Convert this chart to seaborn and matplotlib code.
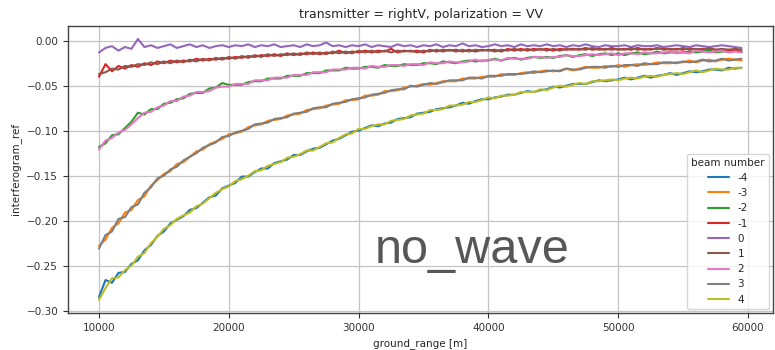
import numpy as np
import pandas as pd
import matplotlib
matplotlib.use("Agg")
import matplotlib.pyplot as plt
import seaborn as sns

# ---------------- data ----------------
ground_range = list(range(10000, 60000, 500))  # 100 samples

beam_m4 = [-0.285, -0.266, -0.269, -0.258, -0.257, -0.248, -0.244, -0.233, -0.227, -0.217,
           -0.212, -0.203, -0.199, -0.195, -0.188, -0.186, -0.180, -0.174, -0.172, -0.164,
           -0.161, -0.158, -0.151, -0.151, -0.146, -0.142, -0.142, -0.136, -0.134, -0.132,
           -0.127, -0.127, -0.123, -0.120, -0.119, -0.115, -0.111, -0.109, -0.105, -0.101,
           -0.100, -0.097, -0.094, -0.095, -0.092, -0.091, -0.087, -0.086, -0.085, -0.081,
           -0.080, -0.079, -0.076, -0.075, -0.074, -0.072, -0.069, -0.070, -0.067, -0.065,
           -0.065, -0.063, -0.062, -0.060, -0.060, -0.058, -0.056, -0.057, -0.055, -0.054,
           -0.051, -0.052, -0.050, -0.048, -0.048, -0.048, -0.046, -0.044, -0.045, -0.044,
           -0.043, -0.041, -0.043, -0.041, -0.039, -0.041, -0.039, -0.038, -0.036, -0.038,
           -0.036, -0.034, -0.035, -0.034, -0.032, -0.032, -0.033, -0.030, -0.031, -0.030]

beam_m3 = [-0.228, -0.221, -0.208, -0.203, -0.191, -0.188, -0.177, -0.173, -0.161, -0.155,
           -0.148, -0.145, -0.137, -0.135, -0.129, -0.123, -0.121, -0.115, -0.112, -0.109,
           -0.104, -0.103, -0.101, -0.096, -0.094, -0.093, -0.089, -0.088, -0.087, -0.083,
           -0.082, -0.081, -0.077, -0.076, -0.075, -0.072, -0.071, -0.070, -0.066, -0.066,
           -0.065, -0.061, -0.061, -0.060, -0.056, -0.056, -0.055, -0.052, -0.051, -0.050,
           -0.048, -0.049, -0.047, -0.045, -0.045, -0.045, -0.042, -0.042, -0.042, -0.040,
           -0.040, -0.040, -0.037, -0.038, -0.038, -0.036, -0.035, -0.036, -0.034, -0.033,
           -0.034, -0.033, -0.031, -0.033, -0.031, -0.029, -0.030, -0.030, -0.028, -0.029,
           -0.027, -0.029, -0.027, -0.026, -0.027, -0.026, -0.024, -0.025, -0.025, -0.024,
           -0.024, -0.022, -0.024, -0.022, -0.021, -0.023, -0.021, -0.020, -0.021, -0.022]

beam_m2 = [-0.118, -0.114, -0.105, -0.104, -0.097, -0.090, -0.080, -0.082, -0.076, -0.076,
           -0.070, -0.069, -0.065, -0.064, -0.059, -0.058, -0.058, -0.053, -0.052, -0.047,
           -0.049, -0.049, -0.049, -0.046, -0.045, -0.045, -0.042, -0.042, -0.042, -0.039,
           -0.039, -0.039, -0.036, -0.036, -0.036, -0.033, -0.033, -0.033, -0.030, -0.031,
           -0.031, -0.029, -0.029, -0.030, -0.027, -0.028, -0.028, -0.026, -0.027, -0.027,
           -0.025, -0.025, -0.026, -0.023, -0.024, -0.025, -0.023, -0.022, -0.023, -0.022,
           -0.022, -0.020, -0.022, -0.020, -0.019, -0.021, -0.019, -0.018, -0.019, -0.018,
           -0.019, -0.017, -0.016, -0.018, -0.016, -0.015, -0.017, -0.015, -0.014, -0.016,
           -0.014, -0.016, -0.014, -0.013, -0.015, -0.014, -0.012, -0.014, -0.013, -0.013,
           -0.013, -0.012, -0.013, -0.012, -0.011, -0.013, -0.012, -0.012, -0.011, -0.012]

beam_m1 = [-0.040, -0.026, -0.034, -0.028, -0.031, -0.027, -0.029, -0.025, -0.027, -0.023,
           -0.025, -0.022, -0.024, -0.022, -0.023, -0.020, -0.022, -0.020, -0.021, -0.019,
           -0.020, -0.018, -0.019, -0.017, -0.018, -0.016, -0.017, -0.015, -0.017, -0.014,
           -0.016, -0.014, -0.015, -0.013, -0.015, -0.013, -0.014, -0.011, -0.014, -0.012,
           -0.013, -0.011, -0.013, -0.011, -0.012, -0.009, -0.013, -0.011, -0.012, -0.011,
           -0.013, -0.010, -0.012, -0.010, -0.011, -0.010, -0.012, -0.010, -0.012, -0.010,
           -0.011, -0.010, -0.012, -0.009, -0.011, -0.009, -0.011, -0.009, -0.010, -0.009,
           -0.011, -0.009, -0.010, -0.009, -0.010, -0.008, -0.010, -0.009, -0.010, -0.008,
           -0.010, -0.009, -0.010, -0.008, -0.010, -0.009, -0.009, -0.008, -0.010, -0.009,
           -0.010, -0.008, -0.010, -0.009, -0.009, -0.010, -0.011, -0.010, -0.011, -0.012]

beam_0 = [-0.013, -0.008, -0.006, -0.011, -0.007, -0.009, 0.002, -0.007, -0.005, -0.008,
          -0.006, -0.004, -0.008, -0.006, -0.004, -0.007, -0.005, -0.008, -0.006, -0.005,
          -0.007, -0.005, -0.006, -0.004, -0.007, -0.005, -0.006, -0.004, -0.007, -0.006,
          -0.005, -0.007, -0.004, -0.006, -0.005, -0.002, -0.006, -0.005, -0.007, -0.005,
          -0.006, -0.004, -0.007, -0.005, -0.006, -0.007, -0.004, -0.006, -0.005, -0.007,
          -0.005, -0.006, -0.004, -0.007, -0.005, -0.006, -0.003, -0.006, -0.005, -0.007,
          -0.006, -0.004, -0.006, -0.005, -0.007, -0.004, -0.006, -0.005, -0.006, -0.004,
          -0.006, -0.005, -0.007, -0.005, -0.006, -0.004, -0.006, -0.007, -0.005, -0.006,
          -0.006, -0.005, -0.007, -0.005, -0.006, -0.006, -0.005, -0.007, -0.006, -0.005,
          -0.006, -0.007, -0.005, -0.006, -0.007, -0.006, -0.005, -0.006, -0.007, -0.008]

beam_p1 = [-0.037, -0.035, -0.031, -0.032, -0.028, -0.029, -0.026, -0.027, -0.024, -0.026,
           -0.023, -0.025, -0.022, -0.024, -0.021, -0.023, -0.020, -0.022, -0.019, -0.021,
           -0.018, -0.020, -0.017, -0.019, -0.016, -0.018, -0.015, -0.017, -0.015, -0.016,
           -0.014, -0.016, -0.013, -0.015, -0.013, -0.015, -0.012, -0.014, -0.012, -0.014,
           -0.011, -0.013, -0.011, -0.013, -0.011, -0.013, -0.011, -0.012, -0.011, -0.013,
           -0.011, -0.012, -0.010, -0.012, -0.010, -0.012, -0.010, -0.012, -0.010, -0.011,
           -0.010, -0.012, -0.010, -0.011, -0.009, -0.011, -0.009, -0.011, -0.009, -0.011,
           -0.009, -0.011, -0.009, -0.010, -0.009, -0.010, -0.008, -0.010, -0.009, -0.010,
           -0.009, -0.010, -0.008, -0.010, -0.009, -0.010, -0.008, -0.010, -0.009, -0.010,
           -0.008, -0.010, -0.009, -0.010, -0.008, -0.010, -0.009, -0.010, -0.009, -0.010]

beam_p2 = [-0.121, -0.111, -0.108, -0.102, -0.099, -0.093, -0.086, -0.080, -0.079, -0.074,
           -0.072, -0.067, -0.067, -0.062, -0.061, -0.057, -0.057, -0.056, -0.052, -0.051,
           -0.051, -0.048, -0.048, -0.048, -0.044, -0.044, -0.044, -0.041, -0.041, -0.041,
           -0.038, -0.038, -0.038, -0.035, -0.035, -0.035, -0.032, -0.032, -0.032, -0.030,
           -0.030, -0.031, -0.028, -0.029, -0.029, -0.027, -0.027, -0.028, -0.026, -0.026,
           -0.027, -0.024, -0.025, -0.025, -0.023, -0.024, -0.024, -0.023, -0.021, -0.023,
           -0.021, -0.021, -0.022, -0.019, -0.020, -0.020, -0.020, -0.018, -0.018, -0.019,
           -0.018, -0.018, -0.016, -0.017, -0.017, -0.016, -0.015, -0.016, -0.015, -0.014,
           -0.016, -0.014, -0.014, -0.015, -0.013, -0.014, -0.014, -0.013, -0.012, -0.014,
           -0.013, -0.014, -0.011, -0.012, -0.013, -0.012, -0.011, -0.013, -0.012, -0.013]

beam_p3 = [-0.231, -0.216, -0.212, -0.198, -0.196, -0.185, -0.182, -0.169, -0.163, -0.153,
           -0.150, -0.143, -0.140, -0.133, -0.129, -0.125, -0.119, -0.116, -0.113, -0.107,
           -0.106, -0.102, -0.100, -0.098, -0.093, -0.092, -0.091, -0.087, -0.086, -0.085,
           -0.081, -0.080, -0.079, -0.075, -0.074, -0.074, -0.070, -0.069, -0.068, -0.065,
           -0.064, -0.063, -0.060, -0.059, -0.058, -0.055, -0.054, -0.054, -0.050, -0.051,
           -0.049, -0.047, -0.048, -0.046, -0.044, -0.044, -0.044, -0.041, -0.041, -0.042,
           -0.039, -0.039, -0.039, -0.037, -0.037, -0.037, -0.036, -0.034, -0.035, -0.034,
           -0.033, -0.034, -0.031, -0.032, -0.032, -0.030, -0.029, -0.029, -0.030, -0.028,
           -0.029, -0.027, -0.027, -0.028, -0.025, -0.026, -0.026, -0.024, -0.024, -0.025,
           -0.023, -0.024, -0.023, -0.021, -0.023, -0.022, -0.020, -0.022, -0.021, -0.020]

beam_p4 = [-0.288, -0.275, -0.264, -0.263, -0.255, -0.250, -0.240, -0.236, -0.225, -0.218,
           -0.209, -0.205, -0.198, -0.194, -0.191, -0.184, -0.181, -0.175, -0.169, -0.165,
           -0.162, -0.156, -0.154, -0.150, -0.145, -0.144, -0.139, -0.137, -0.135, -0.130,
           -0.129, -0.126, -0.122, -0.122, -0.118, -0.114, -0.113, -0.108, -0.104, -0.103,
           -0.098, -0.098, -0.095, -0.093, -0.093, -0.089, -0.088, -0.087, -0.083, -0.082,
           -0.081, -0.077, -0.077, -0.076, -0.072, -0.072, -0.071, -0.068, -0.068, -0.066,
           -0.063, -0.064, -0.061, -0.061, -0.060, -0.057, -0.057, -0.057, -0.054, -0.055,
           -0.052, -0.050, -0.051, -0.049, -0.047, -0.048, -0.045, -0.045, -0.044, -0.043,
           -0.044, -0.042, -0.041, -0.042, -0.040, -0.039, -0.040, -0.038, -0.037, -0.036,
           -0.037, -0.035, -0.033, -0.035, -0.033, -0.031, -0.032, -0.032, -0.030, -0.030]

beam_labels = ["-4", "-3", "-2", "-1", "0", "1", "2", "3", "4"]
beam_series = [beam_m4, beam_m3, beam_m2, beam_m1, beam_0, beam_p1, beam_p2, beam_p3, beam_p4]
beam_colors = ["#1f77b4", "#ff7f0e", "#2ca02c", "#d62728", "#9467bd",
               "#8c564b", "#e377c2", "#7f7f7f", "#bcbd22"]

title_text = "transmitter = rightV, polarization = VV"
annotation = "no_wave"

# ---------------- frame ----------------
rows = []
for lab, vals in zip(beam_labels, beam_series):
    for gx, v in zip(ground_range, vals):
        rows.append((gx, v, lab))
df = pd.DataFrame(rows, columns=["ground_range [m]", "interferogram_ref", "beam number"])

sns.set_style("ticks", {"axes.grid": True, "grid.color": "#c4c4c4",
                        "axes.edgecolor": "#444444"})
plt.rcParams["font.family"] = ["DejaVu Sans"]

fig, ax = plt.subplots(figsize=(7.75, 3.5), dpi=100)
fig.subplots_adjust(left=0.0877, right=0.9975, bottom=0.106, top=0.926)

sns.lineplot(data=df, x="ground_range [m]", y="interferogram_ref",
             hue="beam number", hue_order=beam_labels,
             palette=dict(zip(beam_labels, beam_colors)),
             errorbar=None, linewidth=1.5, ax=ax)

ax.set_xlim(7610, 61930)
ax.set_title(title_text, fontsize=9)
ax.set_xlabel("ground_range [m]", fontsize=7.5)
ax.set_ylabel("interferogram_ref", fontsize=7.5)
ax.tick_params(labelsize=7.5, length=3.5, width=0.8, colors="#333333")
ax.yaxis.set_major_formatter(matplotlib.ticker.FormatStrFormatter("%.2f"))
ax.yaxis.set_major_formatter(matplotlib.ticker.FuncFormatter(
    lambda v, p: ("%.2f" % v).replace("-", "\u2212")))
for s in ax.spines.values():
    s.set_linewidth(1.0)
    s.set_color("#444444")
ax.grid(True, color="#c4c4c4", linewidth=0.9)

ax.text(0.435, 0.174, annotation, transform=ax.transAxes, fontsize=35,
        family=["Liberation Sans", "DejaVu Sans"], color="#575757",
        ha="left", va="baseline")

leg = ax.legend(title="beam number", loc="lower right", fontsize=7.5,
                title_fontsize=7.5, borderaxespad=0.4, handlelength=2.0)

fig.savefig("out.png", dpi=100)
